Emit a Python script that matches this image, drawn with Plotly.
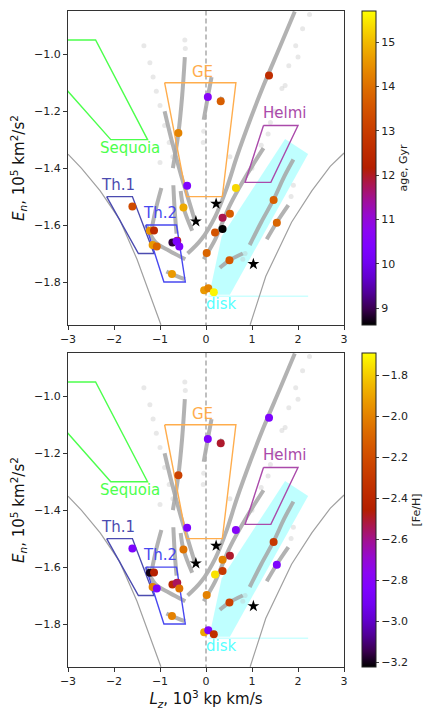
import math
import plotly.graph_objects as go
from plotly.subplots import make_subplots

# stars: Lz (10^3 kpc km/s), En (10^5 km^2/s^2), age (Gyr), [Fe/H]
lz = [0.04, 0.32, -0.60, 1.37, -0.41, -0.49, 0.65, 0.52, 0.36, 0.36,
      0.196, 0.015, 0.51, -0.04, 0.05, 0.17, 1.47, 1.54, -0.73, -0.625,
      -0.64, -0.58, -1.60, -1.22, -1.13, -1.16, -1.07, -0.74]
en = [-1.150, -1.165, -1.277, -1.075, -1.462, -1.538, -1.470, -1.560, -1.574, -1.614,
      -1.626, -1.698, -1.724, -1.829, -1.822, -1.836, -1.512, -1.592, -1.661, -1.655,
      -1.657, -1.675, -1.535, -1.620, -1.619, -1.670, -1.675, -1.772]
age = [10.6, 13.7, 14.3, 12.6, 10.4, 14.8, 15.3, 13.7, 11.8, 8.6,
       13.5, 13.8, 13.6, 14.6, 14.3, 15.6, 13.7, 13.8, 8.9, 12.5,
       10.3, 10.4, 13.3, 14.5, 12.5, 14.6, 13.8, 14.6]
feh = [-2.85, -2.50, -2.25, -2.85, -2.85, -2.05, -2.80, -2.50, -2.00, -2.30,
       -1.75, -2.00, -2.25, -1.90, -2.85, -2.35, -2.30, -2.85, -2.40, -2.50,
       -2.55, -2.05, -2.85, -3.20, -2.45, -2.00, -2.85, -2.00]

# reference objects (black stars)
star_lz = [-0.22, 0.22, 1.03]
star_en = [-1.587, -1.525, -1.737]

# integrated orbit tracks (dense parts)
tracks = {
    "A": ([-0.40, -0.10, 0.20, 0.45, 0.67, 0.96, 1.25, 1.61, 1.93],
          [-1.70, -1.65, -1.57, -1.47, -1.36, -1.23, -1.11, -0.973, -0.85]),
    "B": ([-0.05, 0.20, 0.52, 0.90, 1.25],
          [-1.72, -1.65, -1.53, -1.42, -1.33]),
    "D": ([0.95, 1.20, 1.47, 1.70, 1.90],
          [-1.67, -1.59, -1.51, -1.43, -1.37]),
    "E": ([1.32, 1.54, 1.79], [-1.65, -1.59, -1.53]),
    "F": ([-0.05, 0.04, 0.12], [-1.23, -1.15, -1.08]),
    "F2": ([0.29, 0.35], [-1.175, -1.15]),
    "G": ([-0.72, -0.60, -0.52, -0.46], [-1.40, -1.277, -1.15, -1.01]),
    "I": ([-0.90, -0.75, -0.55, -0.40, -0.25], [-1.20, -1.30, -1.42, -1.50, -1.58]),
    "J": ([-0.97, -1.10, -1.20], [-1.47, -1.55, -1.63]),
    "K": ([-1.30, -1.10, -0.80, -0.45], [-1.60, -1.66, -1.69, -1.72]),
    "L": ([-0.86, -0.74, -0.46], [-1.763, -1.772, -1.79]),
    "M": ([-0.55, -0.49, -0.30], [-1.48, -1.538, -1.62]),
    "N": ([-0.71, -0.68, -0.64], [-1.46, -1.55, -1.63]),
    "O": ([0.30, 0.51, 0.80], [-1.75, -1.724, -1.70]),
}

# sparse ends of the tracks
faint_lz = [-1.35, -0.46, -0.45, -1.22, -1.15, -1.08, -1.00, -0.90, -0.80, -0.72,
            1.35, 1.50, 1.65, 1.80, 1.95, 2.10, 2.25, 1.00, 1.20, 1.40,
            1.85, 1.90, 0.80, 0.85, -0.05, -0.06, -1.00, 0.52, 1.72, 2.00]
faint_en = [-0.97, -0.95, -0.98, -1.03, -1.08, -1.13, -1.18, -1.25, -1.31, -1.36,
            -1.28, -1.20, -1.12, -1.04, -0.97, -0.91, -0.86, -1.40, -1.32, -1.24,
            -1.50, -1.46, -1.72, -1.70, -1.27, -1.31, -1.38, -1.36, -1.11, -1.01]

# energy boundary (circular orbits)
bound_left_lz = [-3.0, -2.71, -2.30, -1.88, -1.50, -0.98]
bound_left_en = [-1.351, -1.40, -1.48, -1.58, -1.72, -1.95]
bound_right_lz = [0.96, 1.30, 1.86, 2.30, 2.70, 3.0]
bound_right_en = [-1.95, -1.78, -1.59, -1.48, -1.394, -1.347]

# selection regions
sequoia_lz = [-3.5, -2.40, -1.27, -2.07, -3.5]
sequoia_en = [-0.95, -0.95, -1.30, -1.30, -1.039]
ge_lz = [-0.90, 0.65, 0.355, -0.42, -0.90]
ge_en = [-1.10, -1.10, -1.50, -1.50, -1.10]
helmi_lz = [1.25, 2.00, 1.41, 0.85, 1.25]
helmi_en = [-1.25, -1.25, -1.45, -1.45, -1.25]
th1_lz = [-2.16, -1.60, -1.13, -1.47, -2.16]
th1_en = [-1.50, -1.50, -1.70, -1.70, -1.50]
th2_lz = [-1.31, -0.64, -0.45, -0.915, -1.31]
th2_en = [-1.60, -1.60, -1.80, -1.80, -1.60]
disk_lz = [0.07, 0.34, 1.72, 2.22, 0.52, 0.07]
disk_en = [-1.845, -1.64, -1.298, -1.35, -1.845, -1.845]
disk_base_lz = [0.05, 2.22]
disk_base_en = [-1.85, -1.85]

labels = [
    ("Sequoia", -1.65, -1.33, "#4cff4c"),
    ("GE", -0.07, -1.062, "#ffad4d"),
    ("Helmi", 1.70, -1.205, "#aa4aaa"),
    ("Th.1", -1.91, -1.459, "#4b4bb0"),
    ("Th.2", -1.00, -1.556, "#4848f0"),
    ("disk", 0.34, -1.877, "#55ffff"),
]


def gnuplot_scale(n=21):
    stops = []
    for i in range(n):
        t = i / (n - 1)
        r = math.sqrt(t)
        g = t ** 3
        b = max(0.0, math.sin(2 * math.pi * t))
        stops.append([t, f"rgb({int(r*255)},{int(g*255)},{int(b*255)})"])
    return stops


FONT = "DejaVu Sans"
fig = make_subplots(rows=2, cols=1, vertical_spacing=0.0427)

for row in (1, 2):
    show = False
    fig.add_trace(go.Scatter(x=disk_lz, y=disk_en, mode="lines", fill="toself",
                             fillcolor="rgba(0,255,255,0.25)", line=dict(width=0),
                             hoverinfo="skip", showlegend=show), row=row, col=1)
    fig.add_trace(go.Scatter(x=disk_base_lz, y=disk_base_en, mode="lines",
                             line=dict(color="rgba(0,255,255,0.2)", width=1.5),
                             showlegend=show), row=row, col=1)
    fig.add_trace(go.Scatter(x=faint_lz, y=faint_en, mode="markers",
                             marker=dict(color="rgba(190,190,190,0.35)", size=5),
                             showlegend=show), row=row, col=1)
    for name, (tx, ty) in tracks.items():
        fig.add_trace(go.Scatter(x=tx, y=ty, mode="lines",
                                 line=dict(color="rgba(165,165,165,0.85)", width=4,
                                           shape="spline"),
                                 showlegend=show), row=row, col=1)
    fig.add_trace(go.Scatter(x=[0, 0], y=[-1.96, -0.84], mode="lines",
                             line=dict(color="#aaaaaa", width=1.5, dash="5px,3px"),
                             showlegend=show), row=row, col=1)
    for bx, by in ((bound_left_lz, bound_left_en), (bound_right_lz, bound_right_en)):
        fig.add_trace(go.Scatter(x=bx, y=by, mode="lines",
                                 line=dict(color="#a0a0a0", width=1.2),
                                 showlegend=show), row=row, col=1)
    for (px, py), c in (((sequoia_lz, sequoia_en), "#4cff4c"),
                        ((ge_lz, ge_en), "#ffad4d"),
                        ((helmi_lz, helmi_en), "#aa4aaa"),
                        ((th1_lz, th1_en), "#4b4bb0"),
                        ((th2_lz, th2_en), "#4848f0")):
        fig.add_trace(go.Scatter(x=px, y=py, mode="lines",
                                 line=dict(color=c, width=1.4),
                                 showlegend=show), row=row, col=1)
    fig.add_trace(go.Scatter(
        x=lz, y=en, mode="markers",
        marker=dict(size=8, color=age if row == 1 else feh,
                    coloraxis="coloraxis" if row == 1 else "coloraxis2"),
        showlegend=show), row=row, col=1)
    fig.add_trace(go.Scatter(x=star_lz, y=star_en, mode="markers",
                             marker=dict(symbol="star", size=9, color="black"),
                             showlegend=show), row=row, col=1)
    for txt, x, y, c in labels:
        fig.add_annotation(x=x, y=y, text=txt, showarrow=False,
                           font=dict(family=FONT, size=15, color=c),
                           row=row, col=1)

axis_style = dict(showgrid=False, zeroline=False, showline=True, mirror=True,
                  linecolor="#333333", linewidth=1, ticks="outside", ticklen=4,
                  tickcolor="#333333", tickfont=dict(family=FONT, size=11, color="#222"))
for row in (1, 2):
    fig.update_xaxes(range=[-3, 3], tickvals=[-3, -2, -1, 0, 1, 2, 3], row=row, col=1,
                     **axis_style)
    fig.update_yaxes(range=[-1.951, -0.848], tickvals=[-1.8, -1.6, -1.4, -1.2, -1.0],
                     tickformat=".1f", row=row, col=1,
                     title=dict(text="<i>E<sub>n</sub></i>, 10<sup>5</sup> km<sup>2</sup>/s<sup>2</sup>",
                                font=dict(family=FONT, size=15, color="#111"), standoff=8),
                     **axis_style)
fig.update_xaxes(title=dict(text="<i>L<sub>z</sub></i>, 10<sup>3</sup> kp km/s",
                            font=dict(family=FONT, size=15, color="#111"), standoff=6),
                 row=2, col=1)

cb_common = dict(thickness=14, len=0.4787, lenmode="fraction", x=1.065, xanchor="left",
                 xpad=0, ypad=0,
                 outlinecolor="#222", outlinewidth=1, ticks="outside", ticklen=3,
                 tickfont=dict(family=FONT, size=11, color="#222"))
# the page body adds an 8px offset, so the figure is 8px smaller on each side
fig.update_layout(
    width=424, height=712,
    margin=dict(l=60, r=88, t=3, b=53, autoexpand=False),
    paper_bgcolor="white", plot_bgcolor="white",
    showlegend=False,
    coloraxis=dict(colorscale=gnuplot_scale(), cmin=8.62, cmax=15.7,
                   colorbar=dict(y=1, yanchor="top", tickvals=[9, 10, 11, 12, 13, 14, 15],
                                 title=dict(text="age, Gyr", side="right",
                                            font=dict(family=FONT, size=11, color="#222")),
                                 **cb_common)),
    coloraxis2=dict(colorscale=gnuplot_scale(), cmin=-3.223, cmax=-1.69,
                    colorbar=dict(y=0, yanchor="bottom",
                                  tickvals=[-3.2, -3.0, -2.8, -2.6, -2.4, -2.2, -2.0, -1.8],
                                  tickformat=".1f",
                                  title=dict(text="[Fe/H]", side="right",
                                             font=dict(family=FONT, size=11, color="#222")),
                                  **cb_common)),
)

fig.write_html("out.html")
